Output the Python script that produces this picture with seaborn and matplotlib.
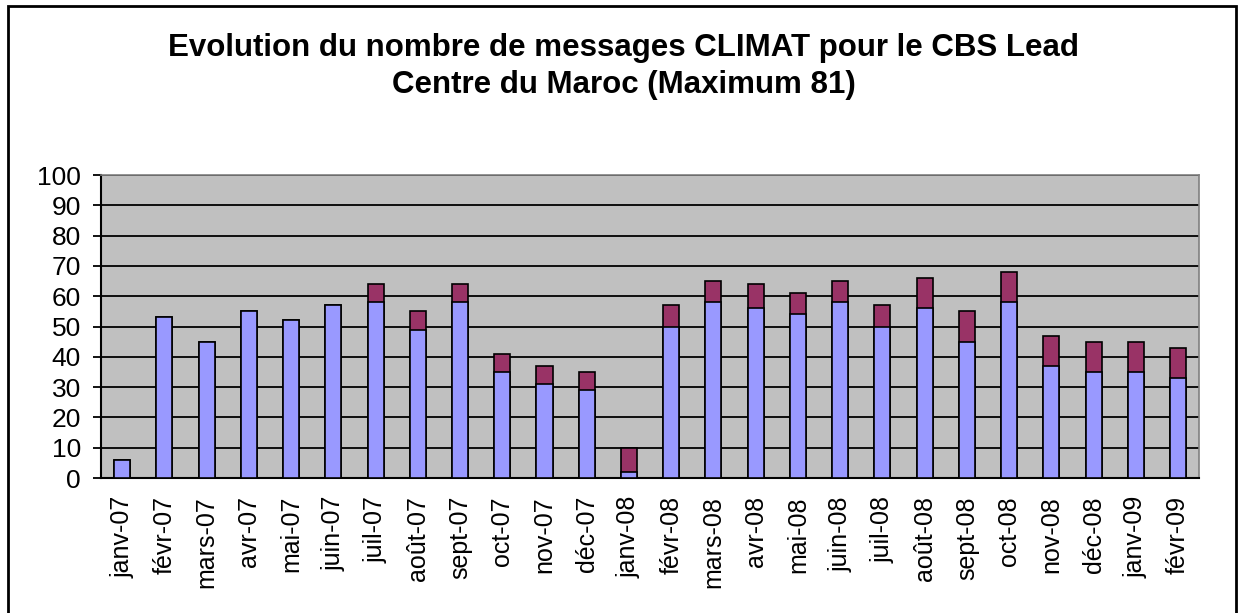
import numpy as np
import pandas as pd
import seaborn as sns
import matplotlib.pyplot as plt
from matplotlib.patches import Rectangle

# Data
mois = ['janv-07', 'févr-07', 'mars-07', 'avr-07', 'mai-07', 'juin-07', 'juil-07',
        'août-07', 'sept-07', 'oct-07', 'nov-07', 'déc-07', 'janv-08', 'févr-08',
        'mars-08', 'avr-08', 'mai-08', 'juin-08', 'juil-08', 'août-08', 'sept-08',
        'oct-08', 'nov-08', 'déc-08', 'janv-09', 'févr-09']
serie1 = [6, 53, 45, 55, 52, 57, 58, 49, 58, 35, 31, 29, 2, 50,
          58, 56, 54, 58, 50, 56, 45, 58, 37, 35, 35, 33]
serie2 = [0, 0, 0, 0, 0, 0, 6, 6, 6, 6, 6, 6, 8, 7,
          7, 8, 7, 7, 7, 10, 10, 10, 10, 10, 10, 10]
y_ticks = list(range(0, 101, 10))

df = pd.DataFrame({'mois': mois, 'serie1': serie1, 'serie2': serie2})
df['total'] = df['serie1'] + df['serie2']

sns.set_style('white')
plt.rcParams['font.family'] = ['Liberation Sans', 'DejaVu Sans']
plt.rcParams['text.color'] = 'black'
plt.rcParams['xtick.color'] = 'black'
plt.rcParams['ytick.color'] = 'black'

fig = plt.figure(figsize=(12.38, 6.13), dpi=100)
ax = fig.add_axes([0.0816, 0.2202, 0.887, 0.4943])
ax.set_facecolor('#C0C0C0')

# stacked bars: total in maroon, first series drawn on top
sns.barplot(data=df, x='mois', y='total', color='#993366', width=0.38,
            edgecolor='black', linewidth=1.2, saturation=1, ax=ax, zorder=3)
sns.barplot(data=df, x='mois', y='serie1', color='#9999FF', width=0.38,
            edgecolor='black', linewidth=1.2, saturation=1, ax=ax, zorder=4)

ax.set_ylim(0, 100)
ax.set_xlim(-0.5, len(mois) - 0.5)
ax.set_yticks(y_ticks)
ax.set_yticklabels([str(v) for v in y_ticks], fontsize=19)
ax.yaxis.grid(True, color='black', linewidth=1.3, zorder=1)
ax.set_axisbelow(True)

ax.set_xticks(range(len(mois)))
ax.set_xticklabels(mois, rotation=90, fontsize=18)
ax.set_xticks(np.arange(-0.5, len(mois), 1), minor=True)
ax.tick_params(axis='x', which='major', length=0, pad=13)
ax.tick_params(axis='x', which='minor', length=7, width=1.3, direction='out')
ax.tick_params(axis='y', length=6, width=1.3, direction='out', left=True, pad=8.5)
ax.set_xlabel('')
ax.set_ylabel('')

for side in ['left', 'bottom']:
    ax.spines[side].set_color('black')
    ax.spines[side].set_linewidth(1.5)
for side in ['top', 'right']:
    ax.spines[side].set_visible(True)
    ax.spines[side].set_color('#808080')
    ax.spines[side].set_linewidth(1.2)

fig.text(0.504, 0.921, 'Evolution du nombre de messages CLIMAT pour le CBS Lead',
         ha='center', va='center', fontsize=22.5, fontweight='bold')
fig.text(0.504, 0.862, 'Centre du Maroc (Maximum 81)',
         ha='center', va='center', fontsize=22.5, fontweight='bold')

# outer frame of the chart
fig.patches.append(Rectangle((8 / 1238, -0.05), 1228 / 1238, 1.05 - 6 / 613,
                             transform=fig.transFigure, fill=False,
                             edgecolor='black', linewidth=2))

fig.savefig('out.png', dpi=100)
